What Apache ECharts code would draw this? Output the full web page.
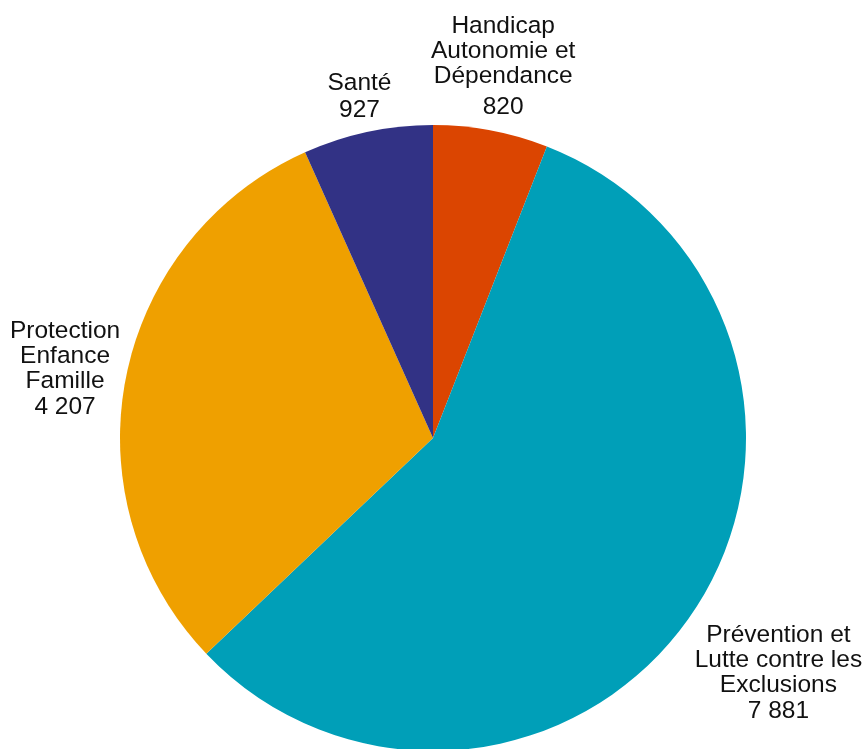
<!DOCTYPE html>
<html>
<head>
<meta charset="utf-8">
<script src="https://cdn.jsdelivr.net/npm/echarts@6/dist/echarts.min.js"></script>
<style>
html,body{margin:0;padding:0;background:#fff;}
#chart{width:864px;height:749px;}
</style>
</head>
<body>
<div id="chart"></div>
<script>
const categories = [
  "Handicap\nAutonomie et\nDépendance",
  "Prévention et\nLutte contre les\nExclusions",
  "Protection\nEnfance\nFamille",
  "Santé"
];
const values = [820, 7881, 4207, 927];
const colors = ["#DB4501", "#009FB8", "#EFA000", "#323285"];

const CX = 433, CY = 438, R = 313;
const labelDist = [379, 416, 375, 352];
const valueLineHeight = [37, 27, 27, 29];
const FS = 24.5;

function fmt(v) {
  return String(v).replace(/\B(?=(\d{3})+(?!\d))/g, " ");
}

const total = values.reduce((a, b) => a + b, 0);
const midAngles = [];
let acc = 0;
values.forEach(v => {
  midAngles.push((acc + v / 2) / total * 2 * Math.PI);
  acc += v;
});

const chart = echarts.init(document.getElementById('chart'), null, {renderer: 'canvas'});
chart.setOption({
  animation: false,
  series: [{
    type: 'pie',
    center: [CX, CY],
    radius: R,
    startAngle: 90,
    clockwise: true,
    avoidLabelOverlap: false,
    itemStyle: {borderWidth: 0},
    labelLine: {show: false},
    label: {
      show: true,
      position: 'outside',
      color: '#111',
      fontFamily: 'Liberation Sans, Arial, sans-serif',
      fontSize: FS,
      lineHeight: 25,
      align: 'center'
    },
    labelLayout: function (params) {
      const i = params.dataIndex;
      const a = midAngles[i];
      const d = labelDist[i];
      return {
        x: CX + d * Math.sin(a),
        y: CY - d * Math.cos(a) + 4,
        align: 'center',
        verticalAlign: 'middle'
      };
    },
    data: categories.map((c, i) => ({
      name: c,
      value: values[i],
      itemStyle: {color: colors[i]},
      label: {
        formatter: function (p) {
          return p.name.split("\n").map(s => '{n|' + s + '}').join("\n") + "\n{v|" + fmt(p.value) + "}";
        },
        rich: {
          n: {fontSize: FS, lineHeight: 25, color: '#111', fontFamily: 'Liberation Sans, Arial, sans-serif', align: 'center'},
          v: {fontSize: FS, lineHeight: valueLineHeight[i], color: '#111', fontFamily: 'Liberation Sans, Arial, sans-serif', align: 'center'}
        }
      }
    }))
  }]
});
</script>
</body>
</html>
